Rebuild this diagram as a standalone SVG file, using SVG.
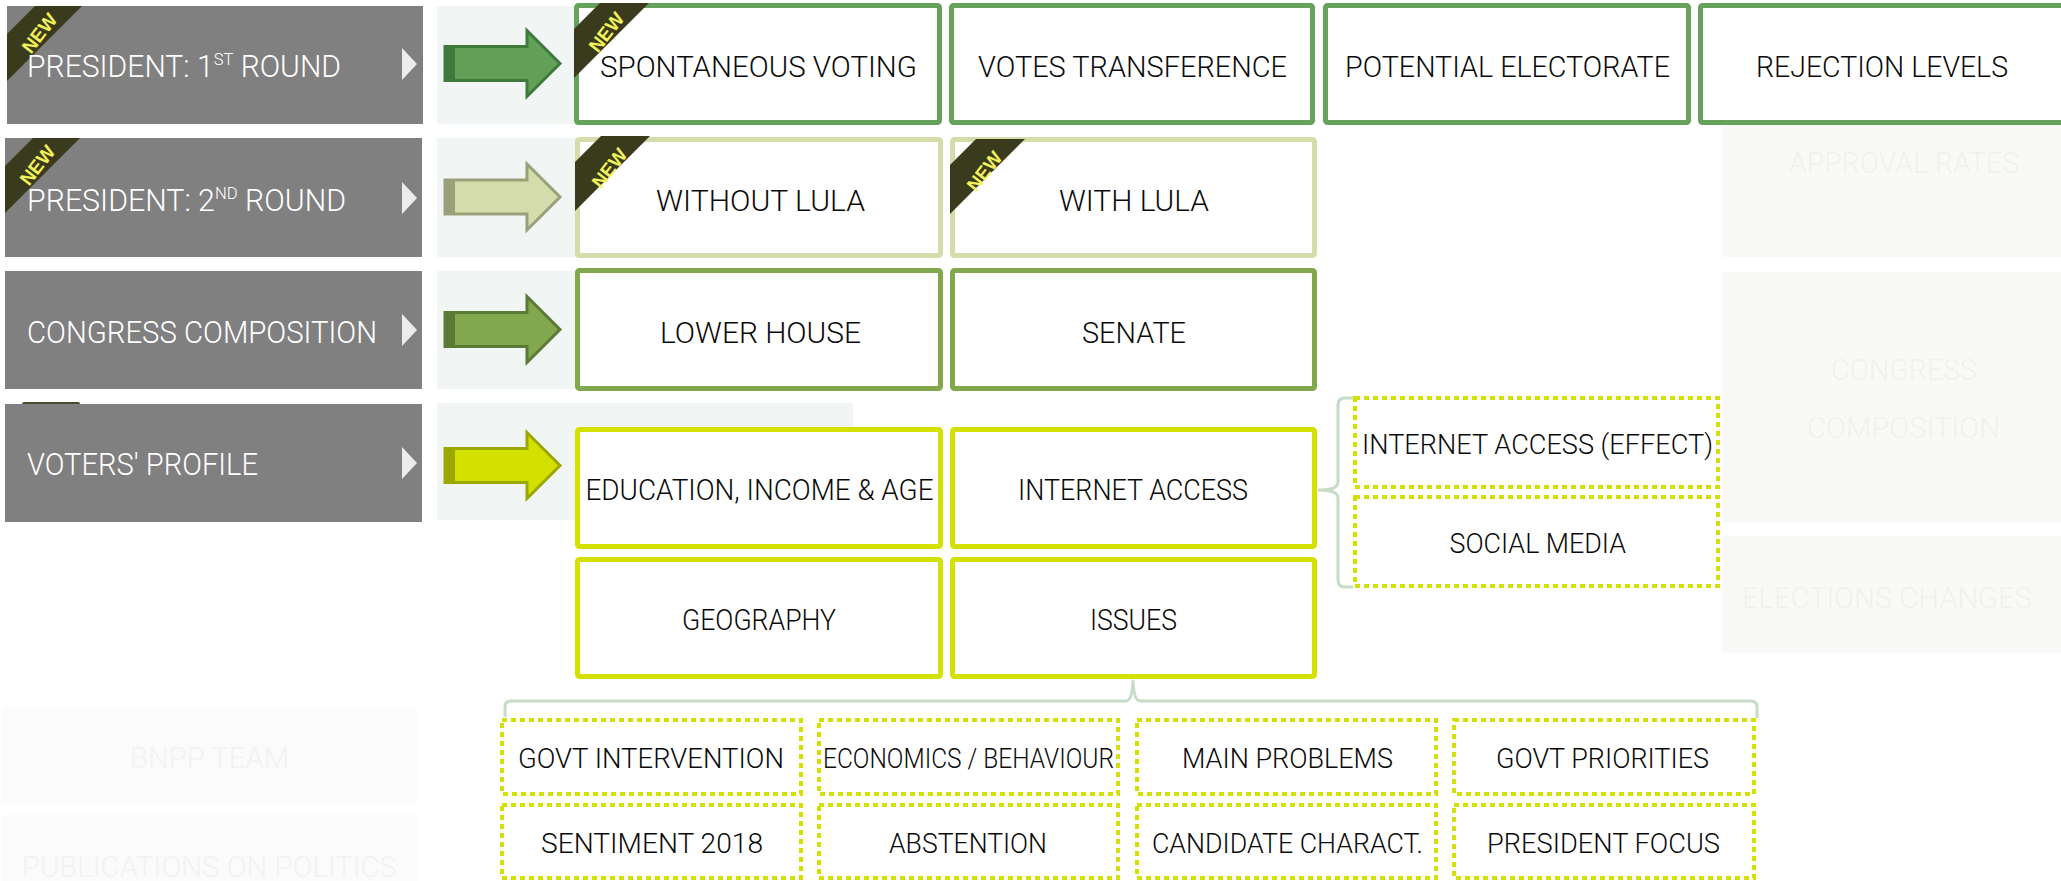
<svg xmlns="http://www.w3.org/2000/svg" width="2061" height="881" viewBox="0 0 2061 881">
<style>
.bg{fill:#ffffff}
.ghostp{fill:#f9faf7}
.ghostt{fill:#eff1ed;font-family:Roboto,"Open Sans",sans-serif;font-weight:300;font-size:29px}
.panel{fill:#f1f6f4}
.gbox{fill:#808080}
.gtri{fill:#ececec}
.gt{fill:#ffffff;font-family:Roboto,"Open Sans",sans-serif;font-weight:300;font-size:31px}
.sup{font-size:17px}
.box{fill:#ffffff;stroke-width:5}
.r1{stroke:#67a25d}
.r2{stroke:#d3ddaa}
.r3{stroke:#82a84e}
.r4{stroke:#d4e000}
.dot{fill:#ffffff;stroke:#d4e000;stroke-width:4;stroke-dasharray:5 4}
.t{fill:#0a0a0a;font-family:Roboto,"Open Sans",sans-serif;font-weight:300;font-size:29px}
.ts{fill:#0a0a0a;font-family:Roboto,"Open Sans",sans-serif;font-weight:300;font-size:27px}
.rib{fill:#3a3a1c}
.new{fill:#f2f25a;font-family:"Liberation Sans",Arial,sans-serif;font-weight:bold;font-size:19px}
.brace{fill:none;stroke:#c6dcc6;stroke-width:3;stroke-linejoin:round}
</style>
<defs>
<path id="arr" d="M445,-17 L527,-17 L527,-33 L560,0 L527,33 L527,17 L445,17 Z"/>
</defs>
<rect class="bg" x="0" y="0" width="2061" height="881"/>

<g id="ghosts">
<rect class="ghostp" x="1722" y="126" width="339" height="131"/>
<text class="ghostt" x="1789" y="173" textLength="230" lengthAdjust="spacingAndGlyphs">APPROVAL RATES</text>
<rect class="ghostp" x="1722" y="272" width="339" height="250"/>
<text class="ghostt" x="1831" y="380" textLength="146" lengthAdjust="spacingAndGlyphs">CONGRESS</text>
<text class="ghostt" x="1807" y="438" textLength="193" lengthAdjust="spacingAndGlyphs">COMPOSITION</text>
<rect class="ghostp" x="1722" y="536" width="339" height="117"/>
<text class="ghostt" x="1742" y="608" textLength="290" lengthAdjust="spacingAndGlyphs">ELECTIONS CHANGES</text>
<rect class="ghostp" x="2057" y="585" width="3" height="28"/>
<rect fill="#fbfbfb" x="2" y="708" width="415" height="95"/>
<text fill="#f2f2f2" font-family="Roboto, sans-serif" font-weight="300" font-size="29" x="130" y="768" textLength="159" lengthAdjust="spacingAndGlyphs">BNPP TEAM</text>
<rect fill="#fbfbfb" x="2" y="815" width="415" height="66"/>
<text fill="#f2f2f2" font-family="Roboto, sans-serif" font-weight="300" font-size="29" x="22" y="877" textLength="375" lengthAdjust="spacingAndGlyphs">PUBLICATIONS ON POLITICS</text>
</g>

<g id="panels">
<rect class="panel" x="437" y="6" width="140" height="118"/>
<rect class="panel" x="437" y="138" width="140" height="119"/>
<rect class="panel" x="437" y="271" width="140" height="118"/>
<rect class="panel" x="437" y="403" width="416" height="117"/>
</g>

<g id="left-president1">
<rect class="gbox" x="7" y="6" width="416" height="118"/>
<polygon class="rib" points="35,6 82,6 7,81 7,34"/>
<text class="new" transform="translate(39,33) rotate(-52)" text-anchor="middle" dy="7">NEW</text>
<text class="gt" x="27" y="77" textLength="314" lengthAdjust="spacingAndGlyphs">PRESIDENT: 1<tspan class="sup" dy="-12">ST</tspan><tspan dy="12"> ROUND</tspan></text>
<polygon class="gtri" points="402,48 417,64 402,80"/>
</g>

<g id="left-president2">
<rect class="gbox" x="5" y="138" width="417" height="119"/>
<polygon class="rib" points="33,138 80,138 5,213 5,166"/>
<text class="new" transform="translate(37,165) rotate(-52)" text-anchor="middle" dy="7">NEW</text>
<text class="gt" x="27" y="211" textLength="319" lengthAdjust="spacingAndGlyphs">PRESIDENT: 2<tspan class="sup" dy="-12">ND</tspan><tspan dy="12"> ROUND</tspan></text>
<polygon class="gtri" points="402,182 417,198 402,214"/>
</g>

<g id="left-congress">
<rect class="gbox" x="5" y="271" width="417" height="118"/>
<text class="gt" x="27" y="343" textLength="350" lengthAdjust="spacingAndGlyphs">CONGRESS COMPOSITION</text>
<polygon class="gtri" points="402,314 417,330 402,346"/>
</g>

<g id="left-voters">
<rect fill="#4a4a2a" x="22" y="402" width="58" height="5" rx="2"/>
<rect class="gbox" x="5" y="404" width="417" height="118"/>
<text class="gt" x="27" y="475" textLength="231" lengthAdjust="spacingAndGlyphs">VOTERS' PROFILE</text>
<polygon class="gtri" points="402,447 417,463 402,479"/>
</g>

<g id="connectors">
<g transform="translate(0,63.5)"><use href="#arr" fill="#62a057" stroke="#3e7a3c" stroke-width="3"/><rect x="444" y="-17" width="11" height="34" fill="#3e7a3c"/></g>
<g transform="translate(0,197)"><use href="#arr" fill="#d3dcaa" stroke="#9aa07a" stroke-width="3"/><rect x="444" y="-17" width="11" height="34" fill="#9aa07a"/></g>
<g transform="translate(0,329.5)"><use href="#arr" fill="#82a84e" stroke="#5a7a35" stroke-width="3"/><rect x="444" y="-17" width="11" height="34" fill="#5a7a35"/></g>
<g transform="translate(0,465.5)"><use href="#arr" fill="#d4e000" stroke="#9aa800" stroke-width="3"/><rect x="444" y="-17" width="11" height="34" fill="#9aa800"/></g>
<path class="brace" d="M1353,398 L1345,398 Q1338,398 1338,405 L1338,482 Q1338,490 1319,490 Q1338,490 1338,498 L1338,580 Q1338,587 1345,587 L1353,587"/>
<path class="brace" d="M505,717 L505,707 Q505,701 511,701 L1126,701 Q1132,701 1133,681 Q1134,701 1140,701 L1751,701 Q1757,701 1757,707 L1757,718"/>
</g>

<g id="spontaneous">
<rect class="box r1" x="576.5" y="5.5" width="363" height="117" rx="2"/>
<polygon class="rib" points="600,3 649,3 574,78 574,29"/>
<text class="new" transform="translate(606,32) rotate(-52)" text-anchor="middle" dy="7">NEW</text>
<text class="t" x="600" y="77" textLength="317" lengthAdjust="spacingAndGlyphs">SPONTANEOUS VOTING</text>
</g>
<g id="votes-transference">
<rect class="box r1" x="951.5" y="5.5" width="361" height="117" rx="2"/>
<text class="t" x="978" y="77" textLength="309" lengthAdjust="spacingAndGlyphs">VOTES TRANSFERENCE</text>
</g>
<g id="potential">
<rect class="box r1" x="1325.5" y="5.5" width="363" height="117" rx="2"/>
<text class="t" x="1345" y="77" textLength="325" lengthAdjust="spacingAndGlyphs">POTENTIAL ELECTORATE</text>
</g>
<g id="rejection">
<rect class="box r1" x="1700.5" y="5.5" width="363" height="117" rx="2"/>
<text class="t" x="1756" y="77" textLength="252" lengthAdjust="spacingAndGlyphs">REJECTION LEVELS</text>
</g>

<g id="without-lula">
<rect class="box r2" x="577.5" y="139.5" width="363" height="116" rx="2"/>
<polygon class="rib" points="601,136 650,136 575,211 575,162"/>
<text class="new" transform="translate(609,168) rotate(-52)" text-anchor="middle" dy="7">NEW</text>
<text class="t" x="656" y="211" textLength="209" lengthAdjust="spacingAndGlyphs">WITHOUT LULA</text>
</g>
<g id="with-lula">
<rect class="box r2" x="952.5" y="139.5" width="362" height="116" rx="2"/>
<polygon class="rib" points="976,139 1025,139 950,214 950,165"/>
<text class="new" transform="translate(984,171) rotate(-52)" text-anchor="middle" dy="7">NEW</text>
<text class="t" x="1059" y="211" textLength="150" lengthAdjust="spacingAndGlyphs">WITH LULA</text>
</g>

<g id="lower-house">
<rect class="box r3" x="577.5" y="270.5" width="363" height="118" rx="2"/>
<text class="t" x="660" y="343" textLength="201" lengthAdjust="spacingAndGlyphs">LOWER HOUSE</text>
</g>
<g id="senate">
<rect class="box r3" x="952.5" y="270.5" width="362" height="118" rx="2"/>
<text class="t" x="1082" y="343" textLength="104" lengthAdjust="spacingAndGlyphs">SENATE</text>
</g>

<g id="education">
<rect class="box r4" x="577.5" y="429.5" width="363" height="117" rx="2"/>
<text class="t" x="585.5" y="500" textLength="348" lengthAdjust="spacingAndGlyphs">EDUCATION, INCOME &amp; AGE</text>
</g>
<g id="internet-access">
<rect class="box r4" x="952.5" y="429.5" width="362" height="117" rx="2"/>
<text class="t" x="1018" y="500" textLength="230" lengthAdjust="spacingAndGlyphs">INTERNET ACCESS</text>
</g>
<g id="geography">
<rect class="box r4" x="577.5" y="559.5" width="363" height="117" rx="2"/>
<text class="t" x="682" y="630" textLength="154" lengthAdjust="spacingAndGlyphs">GEOGRAPHY</text>
</g>
<g id="issues">
<rect class="box r4" x="952.5" y="559.5" width="362" height="117" rx="2"/>
<text class="t" x="1090" y="630" textLength="87" lengthAdjust="spacingAndGlyphs">ISSUES</text>
</g>

<g id="internet-effect">
<rect class="dot" x="1355" y="398" width="363" height="89"/>
<text class="ts" x="1362" y="454" textLength="351" lengthAdjust="spacingAndGlyphs">INTERNET ACCESS (EFFECT)</text>
</g>
<g id="social-media">
<rect class="dot" x="1355" y="497" width="363" height="89"/>
<text class="ts" x="1449.5" y="553" textLength="176.5" lengthAdjust="spacingAndGlyphs">SOCIAL MEDIA</text>
</g>

<g id="govt-intervention">
<rect class="dot" x="502" y="720" width="299" height="74"/>
<text class="ts" x="518" y="768" textLength="266" lengthAdjust="spacingAndGlyphs">GOVT INTERVENTION</text>
</g>
<g id="economics">
<rect class="dot" x="819" y="720" width="299" height="74"/>
<text class="ts" x="823" y="768" font-size="25" textLength="291" lengthAdjust="spacingAndGlyphs">ECONOMICS / BEHAVIOUR</text>
</g>
<g id="main-problems">
<rect class="dot" x="1137" y="720" width="299" height="74"/>
<text class="ts" x="1182" y="768" textLength="211" lengthAdjust="spacingAndGlyphs">MAIN PROBLEMS</text>
</g>
<g id="govt-priorities">
<rect class="dot" x="1454" y="720" width="300" height="74"/>
<text class="ts" x="1496" y="768" textLength="213" lengthAdjust="spacingAndGlyphs">GOVT PRIORITIES</text>
</g>
<g id="sentiment">
<rect class="dot" x="502" y="805" width="299" height="73"/>
<text class="ts" x="541" y="853" textLength="222" lengthAdjust="spacingAndGlyphs">SENTIMENT 2018</text>
</g>
<g id="abstention">
<rect class="dot" x="819" y="805" width="299" height="73"/>
<text class="ts" x="889" y="853" textLength="158" lengthAdjust="spacingAndGlyphs">ABSTENTION</text>
</g>
<g id="candidate">
<rect class="dot" x="1137" y="805" width="299" height="73"/>
<text class="ts" x="1152" y="853" textLength="271" lengthAdjust="spacingAndGlyphs">CANDIDATE CHARACT.</text>
</g>
<g id="president-focus">
<rect class="dot" x="1454" y="805" width="300" height="73"/>
<text class="ts" x="1487" y="853" textLength="233" lengthAdjust="spacingAndGlyphs">PRESIDENT FOCUS</text>
</g>
</svg>
